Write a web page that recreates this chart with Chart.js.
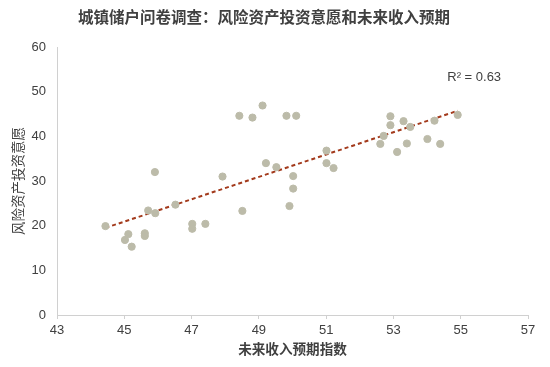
<!DOCTYPE html>
<html>
<head>
<meta charset="utf-8">
<script src="https://cdn.jsdelivr.net/npm/chart.js@4"></script>
<style>
  html, body { margin: 0; padding: 0; background: #fff; }
  #wrap { width: 550px; height: 367px; }
</style>
</head>
<body>
<div id="wrap"><canvas id="scatterChart"></canvas></div>
<script>
// future income expectation index (x) vs willingness to hold risky assets (y)
const incomeIndex = [44.44, 45.02, 45.12, 45.22, 45.61, 45.61, 45.71, 45.92, 45.91, 46.52,
    47.02, 47.02, 47.41, 47.92, 48.42, 48.51, 48.81, 49.11, 49.21, 49.52,
    49.82, 50.11, 50.02, 50.02, 49.91, 51.01, 51.01, 51.22, 52.61, 52.71,
    52.91, 52.91, 53.11, 53.30, 53.40, 53.50, 54.01, 54.22, 54.39, 54.91];
const riskWillingness = [19.9, 16.8, 18.1, 15.3, 18.3, 17.7, 23.4, 22.8, 32.0, 24.7,
    20.4, 19.3, 20.4, 31.0, 44.6, 23.3, 44.2, 46.9, 34.0, 33.1,
    44.6, 44.6, 31.1, 28.3, 24.4, 36.8, 34.0, 32.9, 38.3, 40.1,
    44.5, 42.5, 36.5, 43.4, 38.4, 42.1, 39.4, 43.5, 38.3, 44.8];
const xTicks = [43, 45, 47, 49, 51, 53, 55, 57];
const yTicks = [0, 10, 20, 30, 40, 50, 60];
const r2Label = 'R² = 0.63';

// least squares trend line
const n = incomeIndex.length;
const mx = incomeIndex.reduce((a, b) => a + b, 0) / n;
const my = riskWillingness.reduce((a, b) => a + b, 0) / n;
let sxy = 0, sxx = 0;
incomeIndex.forEach((x, i) => {
    sxy += (x - mx) * (riskWillingness[i] - my);
    sxx += (x - mx) * (x - mx);
});
const slope = sxy / sxx;
const intercept = my - slope * mx;
const xMin = Math.min(...incomeIndex);
const xMax = Math.max(...incomeIndex);
const trend = [xMin, xMax].map(x => ({ x: x, y: intercept + slope * x }));

const points = incomeIndex.map((x, i) => ({ x: x, y: riskWillingness[i] }));

const fontFamily = '"Liberation Sans", Arial, "Noto Sans CJK SC", sans-serif';
const textColor = '#404040';
const axisColor = '#d0d0d0';

// R² text placed in data coordinates
const r2Plugin = {
    id: 'r2Text',
    afterDatasetsDraw(chart) {
        const { ctx, scales } = chart;
        ctx.save();
        ctx.font = '13px ' + fontFamily;
        ctx.fillStyle = textColor;
        ctx.textAlign = 'left';
        ctx.textBaseline = 'middle';
        ctx.fillText(r2Label, scales.x.getPixelForValue(54.6), scales.y.getPixelForValue(53.2));
        ctx.restore();
    }
};

const ctx = document.getElementById('scatterChart').getContext('2d');
new Chart(ctx, {
    type: 'scatter',
    data: {
        datasets: [{
            label: 'data',
            data: points,
            backgroundColor: '#bcbba9',
            borderColor: '#bcbba9',
            pointRadius: 3.6,
            pointHoverRadius: 3.6
        }, {
            label: 'trend',
            type: 'line',
            data: trend,
            borderColor: '#a33a1c',
            borderWidth: 2,
            borderDash: [4, 3],
            pointRadius: 0,
            fill: false
        }]
    },
    options: {
        responsive: true,
        maintainAspectRatio: false,
        animation: false,
        layout: { padding: { top: 0, left: 0, right: 22, bottom: 0 } },
        plugins: {
            legend: { display: false },
            tooltip: { enabled: false },
            title: {
                display: true,
                text: '城镇储户问卷调查：风险资产投资意愿和未来收入预期',
                color: textColor,
                font: { family: fontFamily, size: 15.5, weight: 'bold', lineHeight: 1.2 },
                padding: { top: 9, bottom: 19.4 }
            }
        },
        scales: {
            x: {
                type: 'linear',
                min: 43,
                max: 57,
                afterBuildTicks: axis => { axis.ticks = xTicks.map(v => ({ value: v })); },
                afterFit: axis => { axis.height = 52; },
                grid: { drawOnChartArea: false, drawTicks: true, tickLength: 4, color: axisColor },
                border: { color: axisColor, width: 1 },
                ticks: { color: textColor, padding: 4, font: { family: fontFamily, size: 13 } },
                title: {
                    display: true,
                    text: '未来收入预期指数',
                    color: textColor,
                    font: { family: fontFamily, size: 13.6, weight: 'bold', lineHeight: 1.2 },
                    padding: { top: 0, bottom: 9 }
                }
            },
            y: {
                min: 0,
                max: 60,
                afterBuildTicks: axis => { axis.ticks = yTicks.map(v => ({ value: v })); },
                afterFit: axis => { axis.width = 57; },
                grid: { drawOnChartArea: false, drawTicks: false },
                border: { color: axisColor, width: 1 },
                ticks: { color: textColor, padding: 11, font: { family: fontFamily, size: 13 } },
                title: {
                    display: true,
                    text: '风险资产投资意愿',
                    color: textColor,
                    font: { family: fontFamily, size: 13.5, lineHeight: 1.2 },
                    padding: { top: 11, bottom: 0 }
                }
            }
        }
    },
    plugins: [r2Plugin]
});
</script>
</body>
</html>
